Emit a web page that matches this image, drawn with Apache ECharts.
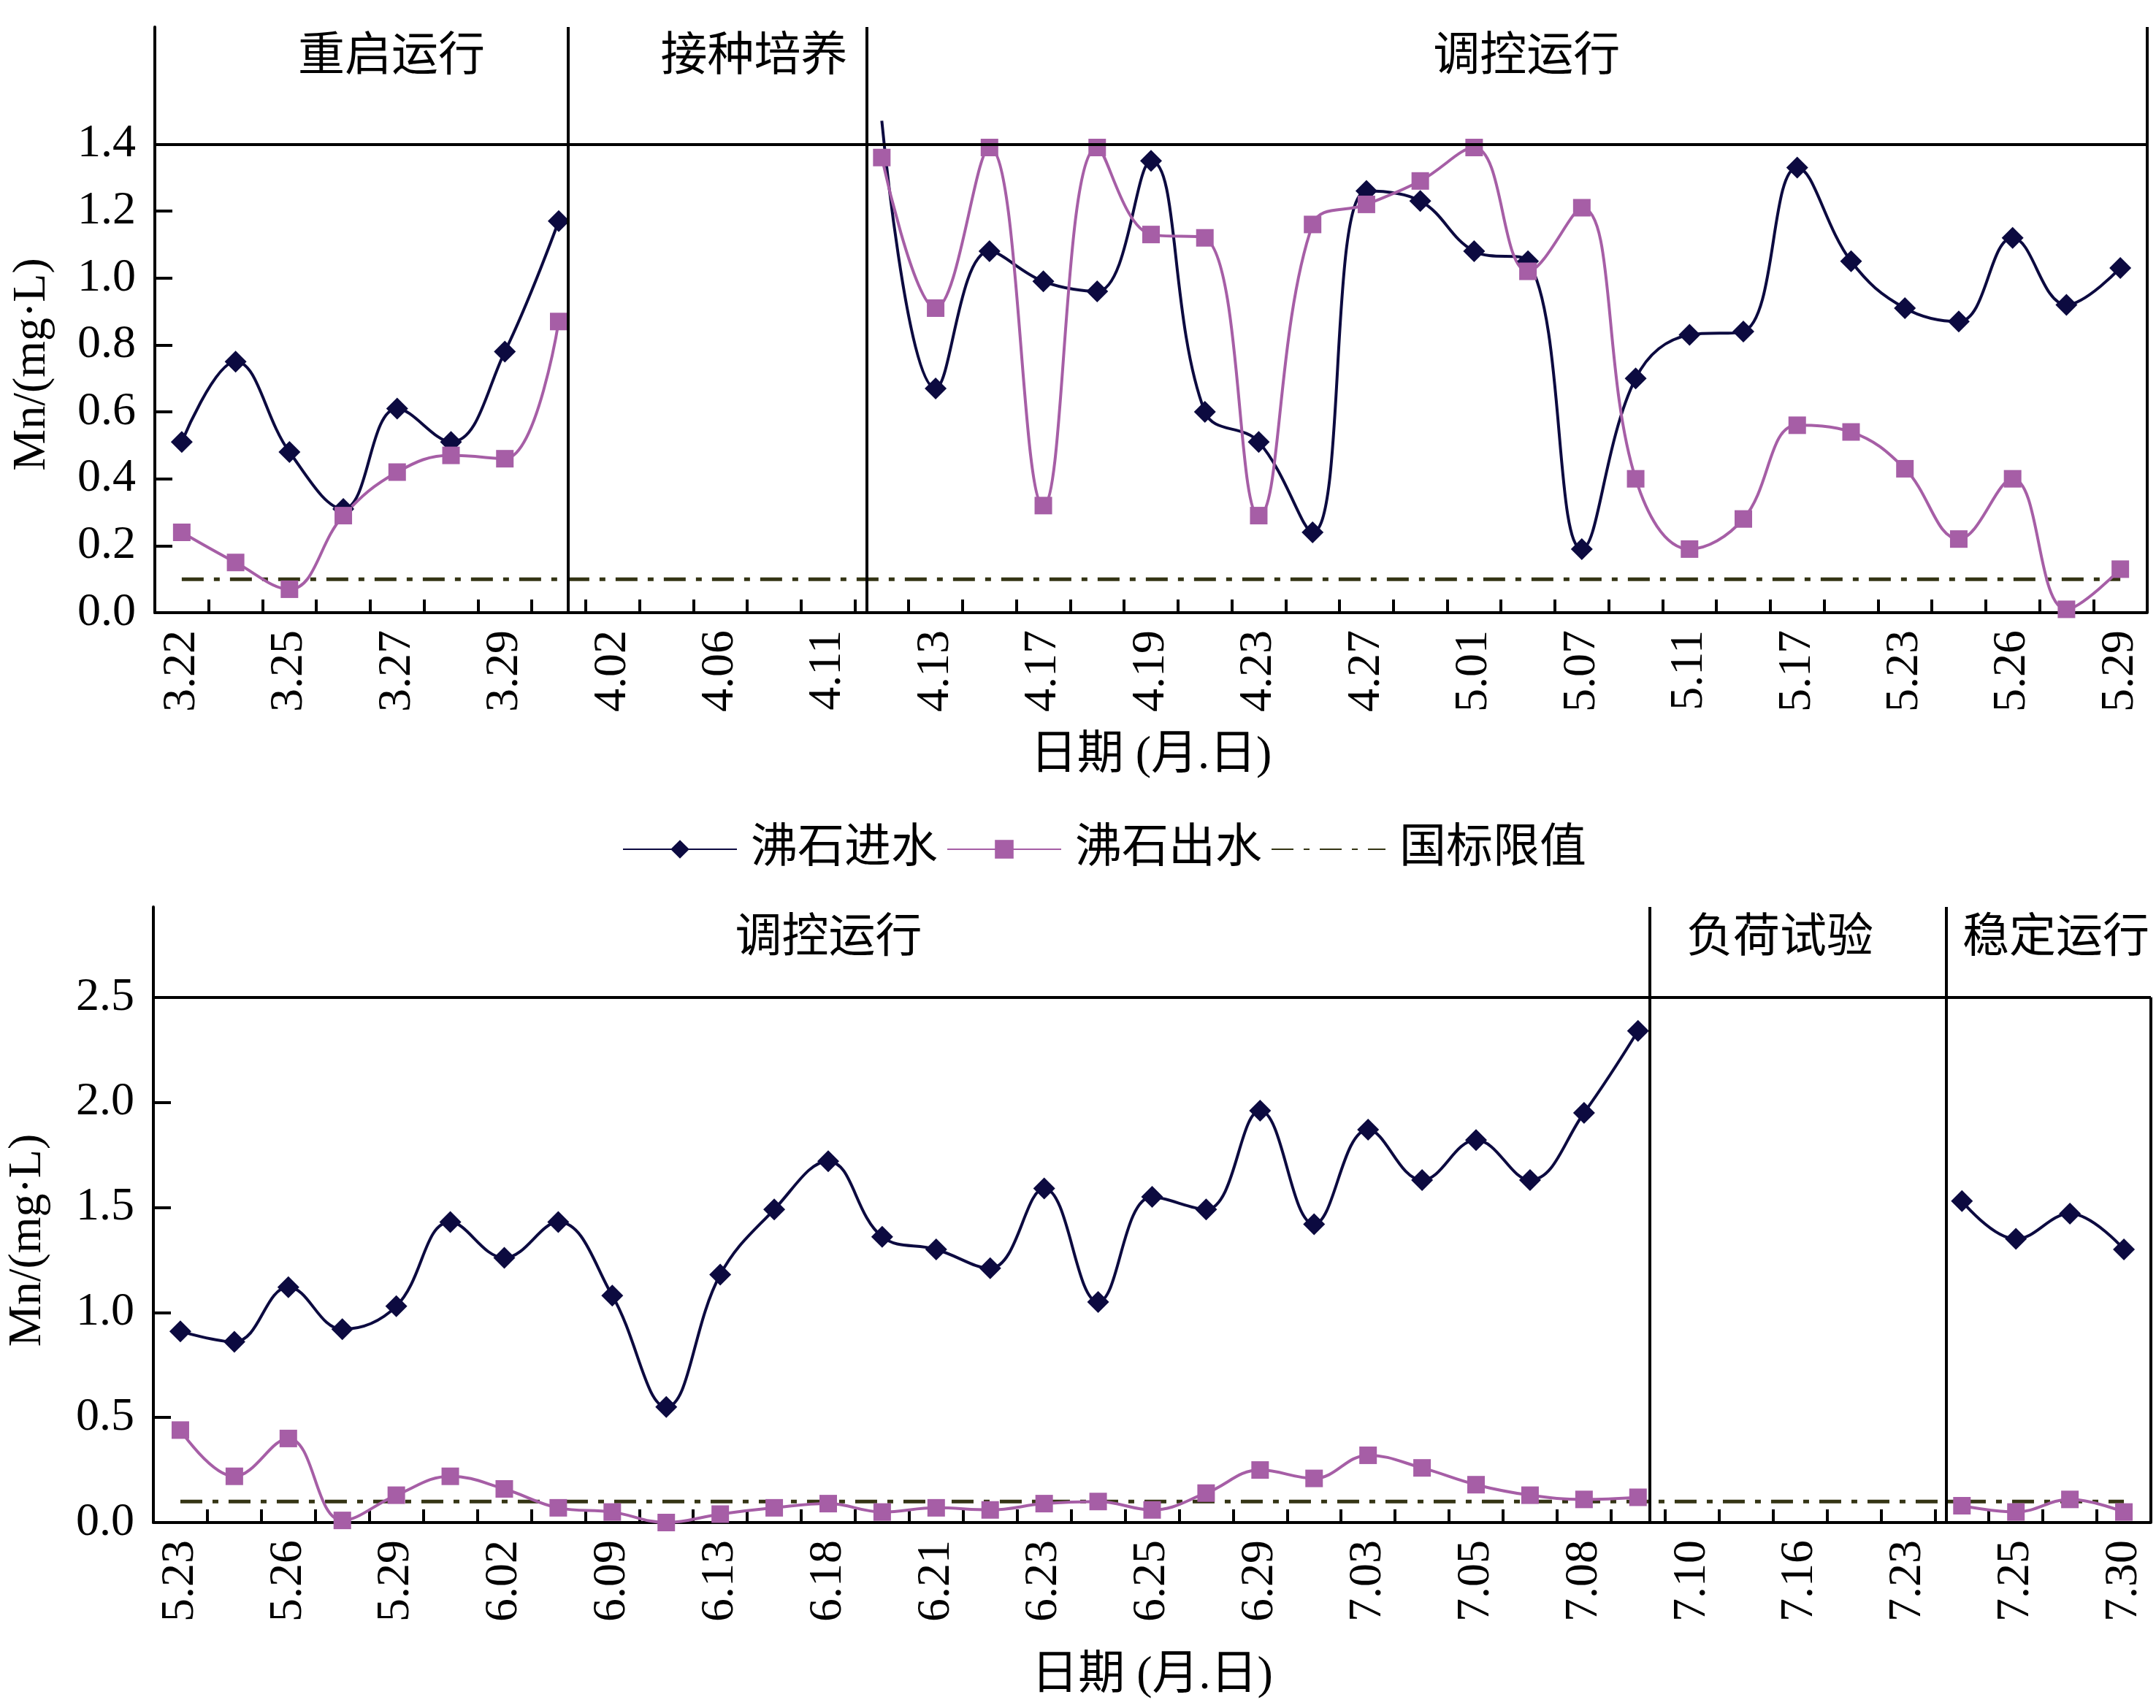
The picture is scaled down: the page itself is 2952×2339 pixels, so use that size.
<!DOCTYPE html>
<html>
<head>
<meta charset="utf-8">
<title>沸石进出水 Mn 浓度</title>
<script src="https://cdn.jsdelivr.net/npm/echarts@6/dist/echarts.min.js"></script>
<style>
  html, body { margin: 0; padding: 0; background: #ffffff; }
  #main { width: 2952px; height: 2339px; }
</style>
</head>
<body>
<div id="main"></div>
<script>
// 上图：重启运行 / 接种培养 / 调控运行
var datesTop = ['3.22','3.23','3.25','3.26','3.27','3.28','3.29','3.31',
  '4.02','4.04','4.06','4.08','4.11',
  '4.12','4.13','4.15','4.17','4.18','4.19','4.21','4.23','4.25','4.27','4.29',
  '5.01','5.04','5.07','5.09','5.11','5.14','5.17','5.20','5.23','5.24','5.26','5.27','5.29'];
var inTop = [0.51, 0.75, 0.48, 0.31, 0.61, 0.51, 0.78, 1.17,
  null, null, null, null, null,
  1.47, 0.67, 1.08, 0.99, 0.96, 1.35, 0.60, 0.51, 0.24, 1.26, 1.23,
  1.08, 1.05, 0.19, 0.70, 0.83, 0.84, 1.33, 1.05, 0.91, 0.87, 1.12, 0.92, 1.03];
var outTop = [0.24, 0.15, 0.07, 0.29, 0.42, 0.47, 0.46, 0.87,
  null, null, null, null, null,
  1.36, 0.91, 1.39, 0.32, 1.39, 1.13, 1.12, 0.29, 1.16, 1.22, 1.29,
  1.39, 1.02, 1.21, 0.40, 0.19, 0.28, 0.56, 0.54, 0.43, 0.22, 0.40, 0.01, 0.13];

// 下图：调控运行 / 负荷试验 / 稳定运行
var datesBottom = ['5.23','5.24','5.26','5.27','5.29','5.31','6.02','6.05','6.09','6.11',
  '6.13','6.16','6.18','6.20','6.21','6.22','6.23','6.24','6.25','6.27',
  '6.29','7.01','7.03','7.04','7.05','7.07','7.08','7.09',
  '7.10','7.13','7.16','7.20','7.23',
  '7.24','7.25','7.27','7.30'];
var inBottom = [0.91, 0.86, 1.12, 0.92, 1.03, 1.43, 1.26, 1.43, 1.08, 0.55,
  1.18, 1.49, 1.72, 1.36, 1.30, 1.21, 1.59, 1.05, 1.55, 1.49,
  1.96, 1.42, 1.87, 1.63, 1.82, 1.63, 1.95, 2.34,
  null, null, null, null, null,
  1.53, 1.35, 1.47, 1.30];
var outBottom = [0.44, 0.22, 0.40, 0.01, 0.13, 0.22, 0.16, 0.07, 0.05, 0.00,
  0.04, 0.07, 0.09, 0.05, 0.07, 0.06, 0.09, 0.10, 0.06, 0.14,
  0.25, 0.21, 0.32, 0.26, 0.18, 0.13, 0.11, 0.12,
  null, null, null, null, null,
  0.08, 0.05, 0.11, 0.05];

var limitValue = 0.1;   // 国标限值 mg/L
var yTicksTop = [0, 0.2, 0.4, 0.6, 0.8, 1.0, 1.2, 1.4];
var yTicksBottom = [0, 0.5, 1.0, 1.5, 2.0, 2.5];
var stagesTop = ['重启运行', '接种培养', '调控运行'];
var stagesBottom = ['调控运行', '负荷试验', '稳定运行'];

var FONT = "'Liberation Serif', 'Noto Sans CJK SC', serif";
var BLUE = '#0c0a40', PINK = '#a65ea6', OLIVE = '#343414';

var chart = echarts.init(document.getElementById('main'));

function catAxis(gridIndex, dates, nameGap) {
  return {
    type: 'category', gridIndex: gridIndex, data: dates, boundaryGap: true,
    name: '日期 (月.日)', nameLocation: 'middle', nameGap: nameGap,
    nameTextStyle: { fontFamily: FONT, fontSize: 64, color: '#000' },
    axisLine: { show: true, lineStyle: { color: '#000', width: 4 } },
    axisTick: { show: true, inside: true, interval: 0, length: 18, lineStyle: { color: '#000', width: 4 } },
    axisLabel: { interval: 1, rotate: 90, margin: 24, fontFamily: FONT, fontSize: 64, color: '#000' },
    splitLine: { show: false }
  };
}

// 隐藏的数值轴，用于画阶段分隔线
function edgeAxis(gridIndex, n) {
  return { type: 'value', gridIndex: gridIndex, min: 0, max: n, show: false, splitLine: { show: false } };
}

function valAxis(gridIndex, max, interval, ticks, nameGap, namePad) {
  var top = ticks[ticks.length - 1];
  return {
    type: 'value', gridIndex: gridIndex, min: 0, max: max, interval: interval,
    name: 'Mn/(mg·L)', nameLocation: 'middle', nameGap: nameGap,
    nameTextStyle: { fontFamily: FONT, fontSize: 64, color: '#000', padding: [0, namePad, 0, 0] },
    axisLine: { show: true, lineStyle: { color: '#000', width: 4 } },
    axisTick: { show: true, inside: true, length: 24, customValues: ticks, lineStyle: { color: '#000', width: 4 } },
    axisLabel: {
      customValues: ticks, margin: 26, fontFamily: FONT, fontSize: 64, color: '#000',
      formatter: function (v) { return v > top + 1e-6 ? '' : v.toFixed(1); }
    },
    splitLine: { show: false }
  };
}

function lineSeries(name, xi, yi, data, color, symbol, size, frameTop) {
  return {
    name: name, type: 'line', xAxisIndex: xi, yAxisIndex: yi,
    data: data.map(function (v) {
      // 超出 frameTop 的点不画标记
      return (v != null && v > frameTop) ? { value: v, symbol: 'none' } : v;
    }),
    smooth: 0.4, symbol: symbol, symbolSize: size, showSymbol: true,
    connectNulls: false, clip: false, z: 3,
    lineStyle: { color: color, width: 4 },
    itemStyle: { color: color },
    emphasis: { disabled: true }
  };
}

function limitSeries(xi, yi, n) {
  var d = [];
  for (var i = 0; i < n; i++) d.push(limitValue);
  return {
    name: '国标限值', type: 'line', xAxisIndex: xi, yAxisIndex: yi, data: d,
    symbol: 'none', smooth: false, z: 2,
    lineStyle: { color: OLIVE, width: 5, type: [30, 14, 8, 14] },
    itemStyle: { color: OLIVE },
    emphasis: { disabled: true }
  };
}

function frameSeries(xi, yi, frameTop, yMax, edges, rightFull, stages, offsets, dist) {
  var lines = [{ yAxis: frameTop }];
  edges.forEach(function (x) { lines.push({ xAxis: x }); });
  if (rightFull) lines.push({ xAxis: 37 });
  else lines.push([{ xAxis: 37, yAxis: 0 }, { xAxis: 37, yAxis: frameTop }]);
  var bounds = [0].concat(edges, [37]);
  return {
    type: 'line', xAxisIndex: xi, yAxisIndex: yi, data: [], silent: true, z: 1,
    markLine: {
      silent: true, symbol: 'none', animation: false,
      lineStyle: { color: '#000', width: 4, type: 'solid' },
      label: { show: false },
      emphasis: { disabled: true },
      data: lines
    },
    markArea: {
      silent: true, animation: false,
      itemStyle: { color: 'rgba(0,0,0,0)' },
      label: { show: true, position: 'insideTop', distance: dist, fontFamily: FONT, fontSize: 64, color: '#000' },
      data: stages.map(function (s, i) {
        return [
          { name: s, xAxis: bounds[i], yAxis: frameTop, label: { offset: [offsets[i], 0] } },
          { xAxis: bounds[i + 1], yAxis: yMax }
        ];
      })
    }
  };
}

var TOP_MAX = 1.75, BOTTOM_MAX = 2.93;

var option = {
  backgroundColor: '#ffffff',
  animation: false,
  grid: [
    { left: 212, right: 12, top: 37, bottom: 1500, containLabel: false, outerBoundsMode: 'none' },
    { left: 210, right: 7, top: 1242, bottom: 254, containLabel: false, outerBoundsMode: 'none' }
  ],
  legend: {
    left: 852, top: 1131, padding: 0, orient: 'horizontal',
    itemWidth: 156, itemHeight: 32, itemGap: 12,
    textStyle: { fontFamily: FONT, fontSize: 64, color: '#000', padding: [0, 0, 0, 14] },
    data: [
      { name: '沸石进水' },
      { name: '沸石出水' },
      { name: '国标限值', itemStyle: { opacity: 0 } }
    ],
    selectedMode: false
  },
  xAxis: [
    catAxis(0, datesTop, 164),
    edgeAxis(0, 37),
    catAxis(1, datesBottom, 178),
    edgeAxis(1, 37)
  ],
  yAxis: [
    valAxis(0, TOP_MAX, 0.2, yTicksTop, 136, 122),
    valAxis(1, BOTTOM_MAX, 0.5, yTicksBottom, 140, 70)
  ],
  series: [
    frameSeries(1, 0, 1.4, TOP_MAX, [7.68, 13.22], true, stagesTop, [41, 50, 27], 10),
    lineSeries('沸石进水', 0, 0, inTop, BLUE, 'diamond', 30, 1.4),
    lineSeries('沸石出水', 0, 0, outTop, PINK, 'rect', 24, 1.4),
    limitSeries(0, 0, datesTop.length),
    frameSeries(3, 1, 2.5, BOTTOM_MAX, [27.72, 33.21], false, stagesBottom, [-100, -25, 10], 12),
    lineSeries('沸石进水', 2, 1, inBottom, BLUE, 'diamond', 30, 2.5),
    lineSeries('沸石出水', 2, 1, outBottom, PINK, 'rect', 24, 2.5),
    limitSeries(2, 1, datesBottom.length)
  ]
};

chart.setOption(option);
</script>
</body>
</html>
